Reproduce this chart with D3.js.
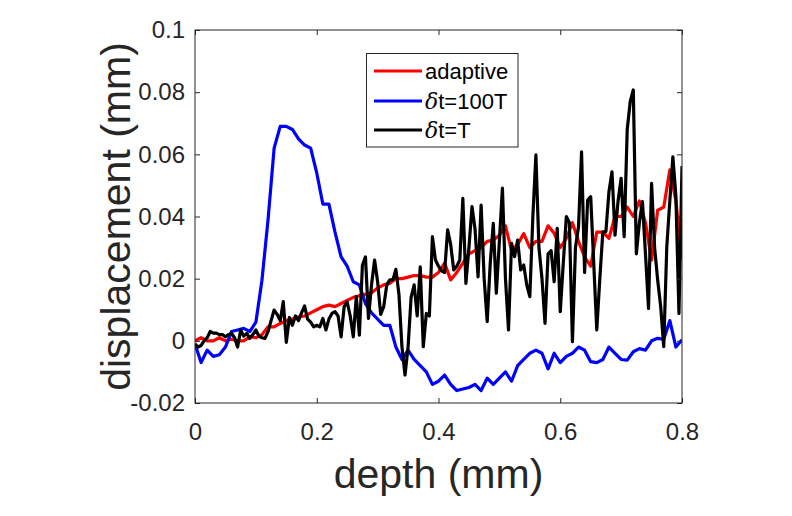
<!DOCTYPE html>
<html><head><meta charset="utf-8">
<script src="https://cdn.jsdelivr.net/npm/d3@7"></script>
<style>
body{margin:0;background:#fff}
text{font-family:"Liberation Sans",Arial,Helvetica,sans-serif}
</style>
</head><body>
<svg id="chart" width="792" height="516"></svg>
<script>
// ---- data ----
const xTicks = [0, 0.2, 0.4, 0.6, 0.8];
const xTickLabels = ["0", "0.2", "0.4", "0.6", "0.8"];
const yTicks = [-0.02, 0, 0.02, 0.04, 0.06, 0.08, 0.1];
const yTickLabels = ["-0.02", "0", "0.02", "0.04", "0.06", "0.08", "0.1"];

const seriesNames = ["adaptive", "\u03B4t=100T", "\u03B4t=T"];
const seriesColors = ["#ff0000", "#0000ff", "#000000"];

// depth sampling (mm)
const depthCoarse = d3.range(0, 81).map(i => i * 0.01);   // for adaptive and dt=100T
const depthFine = d3.range(0, 161).map(i => i * 0.005);   // for dt=T

const adaptive = [
 0.000,0.001,0.000,0.000,0.001,0.000,0.0005,0.000,0.000,0.0013,
 0.001,0.002,0.0045,0.0045,0.0056,0.0065,0.007,0.0077,0.008,0.009,
 0.010,0.011,0.0115,0.011,0.012,0.013,0.014,0.0145,0.015,0.0155,
 0.017,0.018,0.0185,0.020,0.020,0.0205,0.021,0.021,0.0205,0.0205,
 0.022,0.025,0.0196,0.022,0.025,0.028,0.029,0.030,0.032,0.0324,
 0.034,0.037,0.029,0.031,0.0345,0.030,0.032,0.032,0.037,0.0346,
 0.030,0.033,0.038,0.032,0.027,0.024,0.035,0.035,0.033,0.040,
 0.040,0.043,0.040,0.045,0.038,0.026,0.042,0.043,0.055,0.045,
 0.026
];

const dt100T = [
 -0.001,-0.007,-0.003,-0.005,-0.0045,-0.002,0.003,0.0035,0.004,0.003,
 0.006,0.0195,0.039,0.062,0.069,0.069,0.068,0.065,0.063,0.062,
 0.054,0.044,0.044,0.035,0.027,0.024,0.019,0.018,0.012,0.009,
 0.007,0.005,0.005,-0.002,-0.006,-0.003,-0.006,-0.008,-0.010,-0.014,
 -0.013,-0.011,-0.014,-0.016,-0.0155,-0.015,-0.014,-0.016,-0.012,-0.014,
 -0.012,-0.010,-0.013,-0.008,-0.006,-0.004,-0.003,-0.004,-0.009,-0.004,
 -0.007,-0.005,-0.004,-0.002,-0.003,-0.0067,-0.007,-0.006,-0.002,-0.004,
 -0.006,-0.0062,-0.0035,-0.0025,-0.003,0.000,0.0008,0.0005,0.0065,-0.002,
 0.0003
];

const dtT = [
 -0.001,-0.002,-0.0015,0.000,0.001,0.003,0.0025,0.0025,0.002,0.002,
 0.0013,0.002,0.0024,0.001,-0.002,0.0035,0.0015,0.0024,0.0008,0.002,
 0.0035,0.0015,0.001,0.0008,0.003,0.0065,0.0099,0.0085,0.0065,0.0126,
 -0.0005,0.0075,0.005,0.008,0.0065,0.009,0.0112,0.007,0.006,0.0045,
 0.005,0.0045,0.0072,0.0035,0.007,0.0088,0.0094,0.008,0.0013,0.011,
 0.0125,0.008,0.0013,0.0142,0.0018,0.0243,0.027,0.0072,0.018,0.026,
 0.019,0.0085,0.011,0.018,0.0196,0.0196,0.023,0.015,-0.002,-0.011,
 -0.002,0.014,0.018,0.008,0.0238,-0.0019,0.0088,0.008,0.0335,0.026,
 0.024,0.0225,0.022,0.0357,0.031,0.0228,0.024,0.026,0.0458,0.0185,
 0.030,0.0432,0.036,0.0206,0.0437,0.020,0.0062,0.025,0.0378,0.0153,
 0.032,0.0491,0.020,0.0035,0.0314,0.0271,0.0324,0.0228,0.0244,0.018,
 0.0142,0.040,0.0598,0.030,0.020,0.0056,0.028,0.029,0.019,0.0362,
 0.0094,0.025,0.040,0.038,-0.0003,0.030,0.0367,0.0608,0.022,0.0453,
 0.0464,0.025,0.0035,0.020,0.0351,0.0351,0.048,0.0544,0.034,0.045,
 0.0523,0.0335,0.068,0.077,0.0807,0.028,0.038,0.0448,0.028,0.0104,
 0.0507,0.030,0.0196,0.011,-0.0019,0.0302,0.045,0.0592,0.0464,0.0088,
 0.0562
];

const xLabel = "depth (mm)";
const yLabel = "displacement (mm)";

// ---- drawing ----
const svg = d3.select("#chart");
const axisColor = "#262626";
const lineW = 3.2;
const x = d3.scaleLinear().domain([0, 0.8]).range([195, 682]);
const y = d3.scaleLinear().domain([-0.02, 0.1]).range([403, 30]);

svg.append("rect").attr("width", 792).attr("height", 516).attr("fill", "#fff");

svg.append("defs").append("clipPath").attr("id", "plotclip")
  .append("rect")
  .attr("x", x(0)).attr("y", y(0.1))
  .attr("width", x(0.8) - x(0)).attr("height", y(-0.02) - y(0.1));

const lineGen = d3.line().x(d => x(d[0])).y(d => y(d[1]));
const seriesData = [
  depthCoarse.map((d, i) => [d, adaptive[i]]),
  depthCoarse.map((d, i) => [d, dt100T[i]]),
  depthFine.map((d, i) => [d, dtT[i]])
];
const g = svg.append("g").attr("clip-path", "url(#plotclip)");
seriesData.forEach((s, k) => {
  g.append("path").datum(s)
    .attr("d", lineGen)
    .attr("fill", "none")
    .attr("stroke", seriesColors[k])
    .attr("stroke-width", lineW)
    .attr("stroke-linejoin", "round");
});

function styleAxis(sel) {
  sel.select(".domain").remove();
  sel.selectAll(".tick line").attr("stroke", axisColor).attr("stroke-width", 1);
  sel.selectAll(".tick text").attr("fill", axisColor).attr("font-size", 24)
    .attr("font-family", '"Liberation Sans",Arial,sans-serif');
}
const fmtX = (d, i) => xTickLabels[i];
const fmtY = (d, i) => yTickLabels[i];

svg.append("g").attr("transform", `translate(0,${y(-0.02)})`)
  .call(d3.axisBottom(x).tickValues(xTicks).tickFormat(fmtX).tickSizeInner(-5).tickSizeOuter(0).tickPadding(20))
  .call(styleAxis);
svg.append("g").attr("transform", `translate(0,${y(0.1)})`)
  .call(d3.axisTop(x).tickValues(xTicks).tickFormat("").tickSizeInner(-5).tickSizeOuter(0))
  .call(styleAxis);
svg.append("g").attr("transform", `translate(${x(0)},0)`)
  .call(d3.axisLeft(y).tickValues(yTicks).tickFormat(fmtY).tickSizeInner(-5).tickSizeOuter(0).tickPadding(10))
  .call(styleAxis);
svg.append("g").attr("transform", `translate(${x(0.8)},0)`)
  .call(d3.axisRight(y).tickValues(yTicks).tickFormat("").tickSizeInner(-5).tickSizeOuter(0))
  .call(styleAxis);

// box
svg.append("rect")
  .attr("x", x(0)).attr("y", y(0.1))
  .attr("width", x(0.8) - x(0)).attr("height", y(-0.02) - y(0.1))
  .attr("fill", "none").attr("stroke", axisColor).attr("stroke-width", 1);

// axis labels
svg.append("text").attr("x", (x(0) + x(0.8)) / 2).attr("y", 488)
  .attr("text-anchor", "middle").attr("font-size", 41).attr("fill", axisColor)
  .text(xLabel);
svg.append("text")
  .attr("transform", `translate(130,${(y(0.1) + y(-0.02)) / 2}) rotate(-90)`)
  .attr("text-anchor", "middle").attr("font-size", 41).attr("fill", axisColor)
  .text(yLabel);

// legend
const lg = svg.append("g");
lg.append("rect").attr("x", 366.5).attr("y", 53.5).attr("width", 151.5).attr("height", 93.5)
  .attr("fill", "#fff").attr("stroke", axisColor).attr("stroke-width", 1);
const rowY = [71, 101, 130];
seriesNames.forEach((name, k) => {
  lg.append("line").attr("x1", 374).attr("x2", 422).attr("y1", rowY[k]).attr("y2", rowY[k])
    .attr("stroke", seriesColors[k]).attr("stroke-width", lineW);
  const t = lg.append("text").attr("x", 425).attr("y", rowY[k] + 8)
    .attr("font-size", 22).attr("fill", "#000");
  if (name.startsWith("\u03B4")) {
    t.append("tspan").attr("font-style", "italic").attr("font-family", '"DejaVu Serif",serif').text("\u03B4");
    t.append("tspan").text(name.slice(1));
  } else {
    t.text(name);
  }
});
</script>
</body></html>
